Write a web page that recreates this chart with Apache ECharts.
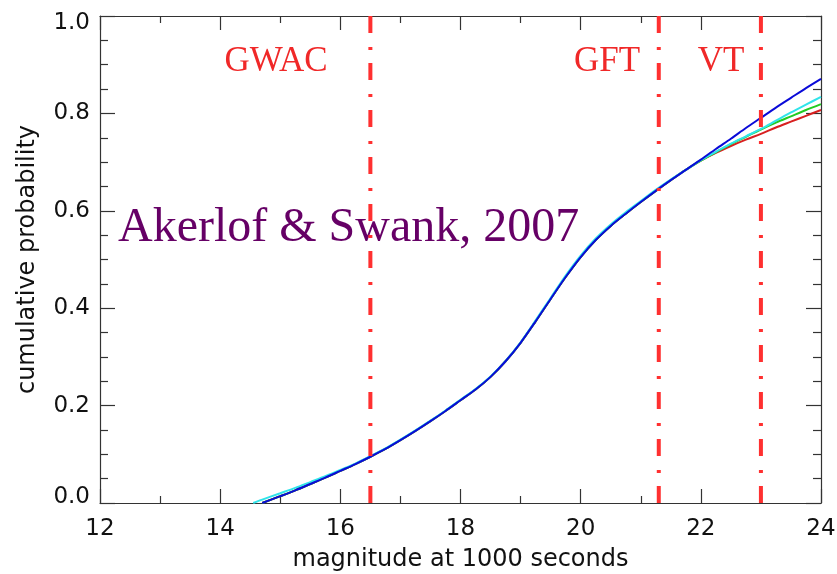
<!DOCTYPE html>
<html>
<head>
<meta charset="utf-8">
<script src="https://cdn.jsdelivr.net/npm/echarts@6/dist/echarts.min.js"></script>
<style>html,body{margin:0;padding:0;background:#fff}#c{width:837px;height:574px}</style>
</head>
<body>
<div id="c"></div>
<script>
const mags = [14.55, 14.7, 15.0, 15.25, 15.5, 15.75, 16.0, 16.25, 16.5, 16.75, 17.0, 17.25, 17.5, 17.75, 18.0, 18.25, 18.5, 18.75, 19.0, 19.25, 19.5, 19.75, 20.0, 20.25, 20.5, 20.75, 21.0, 21.25, 21.5, 21.75, 22.0, 22.25, 22.5, 22.75, 23.0, 23.25, 23.5, 23.75, 24.0];
const redProb   = [null, 0, 0.014, 0.026, 0.039, 0.052, 0.066, 0.080, 0.095, 0.111, 0.129, 0.148, 0.168, 0.189, 0.211, 0.233, 0.259, 0.291, 0.329, 0.373, 0.419, 0.464, 0.505, 0.540, 0.569, 0.594, 0.618, 0.641, 0.663, 0.684, 0.703, 0.719, 0.733, 0.746, 0.758, 0.771, 0.783, 0.795, 0.807];
const greenProb = [null, 0, 0.014, 0.026, 0.039, 0.052, 0.066, 0.080, 0.095, 0.111, 0.129, 0.148, 0.168, 0.189, 0.211, 0.233, 0.259, 0.291, 0.329, 0.373, 0.419, 0.464, 0.505, 0.540, 0.569, 0.594, 0.618, 0.641, 0.663, 0.684, 0.703, 0.720, 0.737, 0.752, 0.767, 0.781, 0.794, 0.807, 0.819];
const cyanProb  = [0, 0.007, 0.020, 0.031, 0.043, 0.055, 0.068, 0.081, 0.096, 0.112, 0.130, 0.149, 0.169, 0.190, 0.212, 0.234, 0.260, 0.292, 0.330, 0.375, 0.421, 0.467, 0.508, 0.543, 0.572, 0.597, 0.620, 0.643, 0.664, 0.684, 0.704, 0.721, 0.738, 0.753, 0.768, 0.785, 0.802, 0.818, 0.834];
const blueProb  = [null, 0, 0.014, 0.026, 0.039, 0.052, 0.066, 0.080, 0.095, 0.111, 0.129, 0.148, 0.168, 0.189, 0.211, 0.233, 0.259, 0.291, 0.329, 0.373, 0.419, 0.464, 0.505, 0.540, 0.569, 0.594, 0.618, 0.641, 0.663, 0.684, 0.705, 0.727, 0.748, 0.770, 0.791, 0.812, 0.832, 0.852, 0.871];
const limitMags = [16.5, 21.3, 23.0];
const limitNames = ['GWAC', 'GFT', 'VT'];
const citation = 'Akerlof & Swank, 2007';

const pair = arr => mags.map((m, i) => [m, arr[i]]);
const axisCol = '#333';
const labFont = 'DejaVu Sans';

const curve = (name, arr, color) => ({
  name, type: 'line', data: pair(arr), showSymbol: false, smooth: 0.3,
  connectNulls: false, lineStyle: { color, width: 2 }, z: 3, silent: true
});
const limitLine = m => ({
  type: 'line', data: [[m, 0], [m, 1]], showSymbol: false,
  lineStyle: { color: '#ff3030', width: 4, type: [17, 13, 3, 14], cap: 'butt' }, z: 5, silent: true
});

const chart = echarts.init(document.getElementById('c'), null, { renderer: 'canvas' });
const commonX = {
  type: 'value', min: 12, max: 24, interval: 2,
  axisLine: { onZero: false, lineStyle: { color: axisCol, width: 1.2 } },
  axisTick: { inside: true, length: 14, lineStyle: { color: axisCol, width: 1.2 } },
  minorTick: { show: true, splitNumber: 2, length: 7, lineStyle: { color: axisCol, width: 1.2 } },
  splitLine: { show: false }
};
const commonY = {
  type: 'value', min: 0, max: 1, interval: 0.2,
  axisLine: { show: true, onZero: false, lineStyle: { color: axisCol, width: 1.2 } },
  axisTick: { show: true, inside: true, length: 15, lineStyle: { color: axisCol, width: 1.2 } },
  minorTick: { show: true, splitNumber: 4, length: 8, lineStyle: { color: axisCol, width: 1.2 } },
  splitLine: { show: false }
};
chart.setOption({
  animation: false,
  grid: { left: 100, right: 16, top: 16, bottom: 71, containLabel: false, outerBoundsMode: 'none' },
  xAxis: [
    Object.assign({}, commonX, {
      position: 'bottom',
      axisLabel: { color: '#111', fontSize: 23, fontFamily: labFont, margin: 15 },
      name: 'magnitude at 1000 seconds', nameLocation: 'middle', nameGap: 45,
      nameTextStyle: { color: '#111', fontSize: 24, fontFamily: labFont }
    }),
    Object.assign({}, commonX, { position: 'top', axisLabel: { show: false } })
  ],
  yAxis: [
    Object.assign({}, commonY, {
      position: 'left',
      axisLabel: {
        color: '#111', fontSize: 23, fontFamily: labFont, margin: 10,
        formatter: v => {
          const s = v.toFixed(1);
          if (v === 0) return '{lo|' + s + '}';
          if (v === 1) return '{hi|' + s + '}';
          return s;
        },
        rich: {
          lo: { fontSize: 23, fontFamily: labFont, color: '#111', padding: [0, 0, 12, 0] },
          hi: { fontSize: 23, fontFamily: labFont, color: '#111', padding: [14, 0, 0, 0] }
        }
      },
      name: 'cumulative probability', nameLocation: 'middle', nameGap: 60,
      nameTextStyle: { color: '#111', fontSize: 24, fontFamily: labFont }
    }),
    Object.assign({}, commonY, { position: 'right', axisLabel: { show: false } })
  ],
  graphic: [
    { type: 'text', z: 1, style: { x: 276, y: 62, text: limitNames[0], fill: '#f02828', font: '35px "Liberation Serif"', textAlign: 'center', textVerticalAlign: 'middle' } },
    { type: 'text', z: 1, style: { x: 607, y: 62, text: limitNames[1], fill: '#f02828', font: '35px "Liberation Serif"', textAlign: 'center', textVerticalAlign: 'middle' } },
    { type: 'text', z: 1, style: { x: 721, y: 62, text: limitNames[2], fill: '#f02828', font: '35px "Liberation Serif"', textAlign: 'center', textVerticalAlign: 'middle' } },
    { type: 'text', z: 1, style: { x: 118, y: 228, text: citation, fill: '#660066', font: '48px "Liberation Serif"', textAlign: 'left', textVerticalAlign: 'middle' } }
  ],
  series: [
    curve('red', redProb, '#d82020'),
    curve('green', greenProb, '#22cc22'),
    curve('cyan', cyanProb, '#30e4ea'),
    curve('blue', blueProb, '#0a0ad8'),
    ...limitMags.map(limitLine)
  ]
});
</script>
</body>
</html>
